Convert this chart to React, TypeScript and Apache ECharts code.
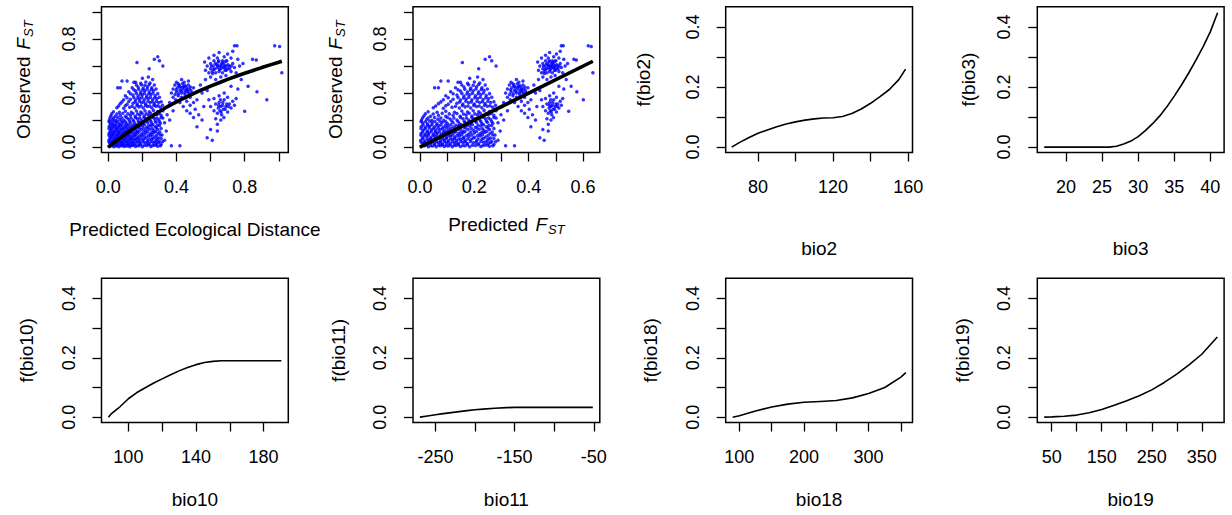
import React, { useEffect, useRef } from "react";
import * as echarts from "echarts";

// Site pairs: [predicted ecological distance, predicted FST, observed FST]
const coreSites: number[][] = [
  [0.004,0.004,0.005],[0.018,0.018,0.01],[0.032,0.031,0.003],[0.047,0.046,0.008],[0.062,0.06,0.002],[0.078,0.075,0.01],[0.093,0.089,0.004],[0.11,0.104,0.009],[0.126,0.119,0.002],[0.142,0.133,0.012],[0.16,0.149,0.004],[0.18,0.166,0.01],[0.2,0.183,0.003],[0.225,0.204,0.012],[0.25,0.224,0.004],[0.27,0.24,0.015],[0.29,0.256,0.006],
  [0.01,0.01,0.028],[0.025,0.025,0.022],[0.04,0.039,0.03],[0.055,0.054,0.024],[0.07,0.068,0.032],[0.086,0.083,0.022],[0.102,0.097,0.03],[0.118,0.111,0.025],[0.135,0.127,0.033],[0.152,0.142,0.024],[0.17,0.158,0.035],[0.19,0.175,0.027],[0.215,0.196,0.033],[0.24,0.216,0.025],[0.262,0.234,0.036],[0.285,0.252,0.028],[0.31,0.272,0.02],
  [0.003,0.003,0.05],[0.018,0.018,0.045],[0.033,0.032,0.055],[0.048,0.047,0.048],[0.063,0.061,0.056],[0.079,0.076,0.046],[0.094,0.09,0.054],[0.11,0.104,0.047],[0.127,0.12,0.057],[0.143,0.134,0.05],[0.162,0.151,0.058],[0.18,0.166,0.048],[0.205,0.187,0.055],[0.23,0.208,0.047],[0.255,0.228,0.058],[0.28,0.248,0.05],[0.3,0.264,0.042],
  [0.01,0.01,0.072],[0.026,0.026,0.078],[0.041,0.04,0.07],[0.056,0.055,0.08],[0.071,0.069,0.073],[0.087,0.084,0.079],[0.103,0.098,0.071],[0.12,0.113,0.08],[0.137,0.128,0.074],[0.155,0.145,0.082],[0.175,0.162,0.072],[0.198,0.181,0.08],[0.222,0.201,0.073],[0.248,0.222,0.082],[0.272,0.242,0.075],[0.295,0.26,0.068],
  [0.004,0.004,0.1],[0.019,0.019,0.095],[0.034,0.033,0.103],[0.05,0.049,0.097],[0.066,0.064,0.105],[0.082,0.079,0.096],[0.098,0.093,0.104],[0.115,0.108,0.098],[0.133,0.125,0.106],[0.152,0.142,0.099],[0.172,0.159,0.107],[0.195,0.179,0.097],[0.22,0.2,0.105],[0.245,0.22,0.098],[0.268,0.238,0.108],[0.292,0.258,0.1],[0.315,0.276,0.09],
  [0.012,0.012,0.125],[0.028,0.028,0.12],[0.044,0.043,0.128],[0.06,0.058,0.122],[0.077,0.074,0.13],[0.094,0.09,0.121],[0.112,0.106,0.129],[0.13,0.122,0.123],[0.15,0.14,0.131],[0.17,0.158,0.12],[0.193,0.177,0.13],[0.218,0.198,0.124],[0.242,0.218,0.132],[0.265,0.236,0.122],[0.29,0.256,0.13],
  [0.005,0.005,0.152],[0.02,0.02,0.147],[0.037,0.036,0.155],[0.054,0.053,0.148],[0.072,0.07,0.156],[0.09,0.086,0.147],[0.11,0.104,0.155],[0.13,0.122,0.149],[0.152,0.142,0.157],[0.175,0.162,0.148],[0.2,0.183,0.156],[0.225,0.204,0.147],[0.25,0.224,0.157],[0.275,0.244,0.15],[0.3,0.264,0.16],
  [0.01,0.01,0.178],[0.028,0.028,0.172],[0.046,0.045,0.18],[0.065,0.063,0.173],[0.085,0.082,0.182],[0.107,0.101,0.174],[0.13,0.122,0.181],[0.155,0.145,0.172],[0.18,0.166,0.182],[0.205,0.187,0.175],[0.23,0.208,0.183],[0.255,0.228,0.174],[0.28,0.248,0.184],[0.305,0.268,0.176],
  [0.006,0.006,0.2],[0.025,0.025,0.205],[0.045,0.044,0.198],[0.068,0.066,0.207],[0.092,0.088,0.199],[0.118,0.111,0.208],[0.145,0.136,0.2],[0.17,0.158,0.21],[0.195,0.179,0.2],[0.22,0.2,0.21],[0.245,0.22,0.202],[0.27,0.24,0.212],[0.295,0.26,0.204],[0.32,0.28,0.215],
  [0.015,0.015,0.232],[0.04,0.039,0.228],[0.07,0.068,0.235],[0.1,0.095,0.228],[0.13,0.122,0.236],[0.158,0.148,0.229],[0.185,0.17,0.238],[0.21,0.191,0.23],[0.235,0.212,0.24],[0.26,0.232,0.232],[0.285,0.252,0.242],[0.31,0.272,0.235],
];

const coreFillSites: number[][] = [
  [0.011,0.011,0.014],[0.026,0.026,0.017],[0.04,0.039,0.012],[0.055,0.054,0.016],[0.071,0.069,0.013],[0.086,0.082,0.018],[0.101,0.096,0.012],[0.118,0.111,0.016],[0.134,0.126,0.014],[0.151,0.141,0.018],[0.17,0.158,0.012],[0.19,0.175,0.017],[0.212,0.193,0.013],[0.237,0.214,0.018],[0.26,0.232,0.012],[0.28,0.248,0.016],[0.305,0.268,0.01],
  [0.004,0.004,0.038],[0.018,0.018,0.036],[0.033,0.032,0.041],[0.048,0.047,0.037],[0.063,0.061,0.04],[0.078,0.075,0.035],[0.094,0.09,0.041],[0.11,0.104,0.037],[0.126,0.119,0.04],[0.144,0.135,0.036],[0.161,0.15,0.042],[0.181,0.167,0.037],[0.203,0.186,0.041],[0.228,0.206,0.036],[0.25,0.224,0.042],[0.273,0.242,0.038],[0.295,0.26,0.035],[0.318,0.278,0.04],
  [0.011,0.011,0.062],[0.026,0.026,0.06],[0.041,0.04,0.065],[0.056,0.055,0.061],[0.071,0.069,0.064],[0.087,0.083,0.06],[0.102,0.097,0.065],[0.119,0.112,0.061],[0.135,0.127,0.064],[0.153,0.143,0.06],[0.171,0.159,0.066],[0.191,0.176,0.061],[0.214,0.195,0.065],[0.238,0.214,0.06],[0.262,0.234,0.066],[0.286,0.253,0.061],[0.31,0.272,0.063],
  [0.004,0.004,0.087],[0.018,0.018,0.085],[0.033,0.032,0.09],[0.049,0.048,0.086],[0.064,0.062,0.089],[0.079,0.076,0.085],[0.095,0.09,0.09],[0.112,0.106,0.086],[0.128,0.12,0.089],[0.146,0.136,0.085],[0.164,0.153,0.091],[0.185,0.171,0.086],[0.21,0.191,0.09],[0.235,0.212,0.085],[0.258,0.23,0.091],[0.282,0.25,0.086],[0.305,0.268,0.089],
  [0.01,0.01,0.112],[0.026,0.026,0.11],[0.042,0.041,0.115],[0.058,0.056,0.111],[0.074,0.071,0.114],[0.09,0.086,0.11],[0.106,0.1,0.115],[0.123,0.116,0.111],[0.141,0.132,0.114],[0.16,0.149,0.11],[0.18,0.166,0.116],[0.205,0.187,0.111],[0.23,0.208,0.115],[0.255,0.228,0.11],[0.278,0.246,0.116],[0.302,0.266,0.112],
  [0.004,0.004,0.138],[0.019,0.019,0.136],[0.035,0.034,0.141],[0.051,0.05,0.137],[0.068,0.066,0.14],[0.085,0.082,0.136],[0.102,0.097,0.141],[0.12,0.113,0.137],[0.139,0.13,0.14],[0.16,0.149,0.135],[0.182,0.168,0.141],[0.207,0.189,0.137],[0.232,0.21,0.141],[0.258,0.23,0.136],[0.282,0.25,0.142],[0.31,0.272,0.138],
  [0.012,0.012,0.163],[0.028,0.028,0.161],[0.045,0.044,0.166],[0.063,0.061,0.162],[0.08,0.077,0.165],[0.099,0.094,0.161],[0.12,0.113,0.166],[0.141,0.132,0.162],[0.163,0.152,0.165],[0.188,0.173,0.161],[0.212,0.193,0.166],[0.238,0.214,0.162],[0.262,0.234,0.166],[0.288,0.254,0.161],
  [0.004,0.004,0.19],[0.02,0.02,0.188],[0.037,0.036,0.193],[0.056,0.055,0.189],[0.077,0.074,0.192],[0.1,0.095,0.188],[0.124,0.117,0.193],[0.15,0.14,0.189],[0.176,0.163,0.192],[0.2,0.183,0.188],[0.225,0.204,0.194],[0.25,0.224,0.189],[0.275,0.244,0.193],[0.3,0.264,0.189],
  [0.01,0.01,0.217],[0.03,0.03,0.215],[0.055,0.054,0.22],[0.08,0.077,0.216],[0.107,0.101,0.219],[0.133,0.125,0.215],[0.16,0.149,0.22],[0.185,0.171,0.216],[0.21,0.191,0.22],[0.235,0.212,0.215],[0.26,0.232,0.221],[0.285,0.252,0.216],[0.31,0.272,0.219],
  [0.02,0.02,0.247],[0.05,0.049,0.245],[0.085,0.082,0.25],[0.115,0.108,0.246],[0.145,0.136,0.249],[0.172,0.16,0.245],[0.198,0.181,0.25],[0.222,0.202,0.246],[0.248,0.222,0.25],[0.272,0.242,0.245],[0.298,0.262,0.249],
];

const upperSites: number[][] = [
  [0.03,0.03,0.262],[0.065,0.063,0.258],[0.1,0.095,0.265],[0.135,0.127,0.258],[0.165,0.154,0.268],[0.19,0.175,0.26],[0.215,0.196,0.27],[0.24,0.216,0.262],[0.265,0.236,0.272],[0.29,0.256,0.264],[0.32,0.28,0.27],
  [0.05,0.049,0.292],[0.09,0.086,0.288],[0.125,0.118,0.295],[0.155,0.145,0.29],[0.18,0.166,0.298],[0.205,0.187,0.29],[0.23,0.208,0.3],[0.255,0.228,0.292],[0.28,0.248,0.302],[0.305,0.268,0.295],
  [0.06,0.058,0.305],[0.1,0.095,0.307],[0.14,0.131,0.303],[0.168,0.156,0.308],[0.192,0.177,0.304],[0.218,0.198,0.309],[0.243,0.218,0.305],[0.268,0.238,0.31],[0.292,0.258,0.306],[0.318,0.278,0.31],
  [0.07,0.068,0.322],[0.11,0.104,0.318],[0.145,0.136,0.325],[0.17,0.158,0.32],[0.195,0.179,0.328],[0.22,0.2,0.32],[0.245,0.22,0.33],[0.27,0.24,0.322],[0.295,0.26,0.33],
  [0.08,0.077,0.335],[0.12,0.113,0.338],[0.157,0.146,0.334],[0.183,0.169,0.339],[0.208,0.189,0.335],[0.233,0.21,0.34],[0.258,0.23,0.336],[0.282,0.25,0.34],[0.31,0.272,0.336],
  [0.09,0.086,0.35],[0.13,0.122,0.355],[0.16,0.149,0.348],[0.185,0.17,0.357],[0.21,0.191,0.35],[0.235,0.212,0.36],[0.26,0.232,0.352],[0.285,0.252,0.36],
  [0.11,0.104,0.365],[0.15,0.14,0.368],[0.173,0.16,0.364],[0.197,0.18,0.369],[0.222,0.202,0.365],[0.247,0.222,0.37],[0.272,0.242,0.366],[0.3,0.264,0.37],
  [0.1,0.095,0.38],[0.145,0.136,0.385],[0.175,0.162,0.378],[0.2,0.183,0.388],[0.225,0.204,0.38],[0.25,0.224,0.39],[0.275,0.244,0.382],
  [0.13,0.122,0.395],[0.165,0.154,0.398],[0.188,0.173,0.394],[0.212,0.193,0.399],[0.238,0.214,0.395],[0.262,0.234,0.4],[0.29,0.256,0.396],
  [0.12,0.113,0.41],[0.16,0.149,0.415],[0.19,0.175,0.408],[0.215,0.196,0.418],[0.24,0.216,0.41],[0.265,0.236,0.42],
  [0.15,0.14,0.425],[0.178,0.165,0.428],[0.202,0.185,0.424],[0.228,0.206,0.43],[0.252,0.226,0.426],[0.28,0.248,0.43],
  [0.14,0.131,0.44],[0.175,0.162,0.445],[0.205,0.187,0.438],[0.23,0.208,0.447],[0.255,0.228,0.44],
  [0.165,0.154,0.46],[0.195,0.179,0.462],[0.215,0.196,0.458],[0.24,0.216,0.463],[0.27,0.24,0.46],
  [0.15,0.14,0.48],[0.19,0.175,0.472],[0.22,0.2,0.482],[0.245,0.22,0.475],[0.2,0.183,0.51],[0.235,0.212,0.52],[0.26,0.232,0.5],[0.11,0.104,0.49],[0.07,0.068,0.44],[0.055,0.054,0.44],[0.08,0.077,0.49],
  [0.168,0.156,0.627],[0.27,0.24,0.65],[0.29,0.256,0.67],[0.3,0.264,0.64],[0.32,0.28,0.6],[0.24,0.216,0.58],[0.16,0.149,0.48],
  [0.33,0.287,0.05],[0.34,0.295,0.12],[0.33,0.287,0.18],[0.345,0.298,0.24],[0.36,0.308,0.2],[0.37,0.315,0.01],[0.42,0.348,0.01],[0.38,0.322,0.27],
];

const midSites: number[][] = [
  [0.37,0.315,0.4],[0.38,0.322,0.43],[0.39,0.329,0.46],[0.4,0.335,0.41],[0.405,0.338,0.44],[0.41,0.342,0.38],[0.415,0.345,0.46],[0.42,0.348,0.42],[0.425,0.351,0.44],[0.43,0.355,0.4],[0.435,0.358,0.47],[0.44,0.361,0.43],[0.445,0.364,0.45],[0.45,0.367,0.39],[0.455,0.37,0.42],[0.46,0.373,0.44],[0.465,0.376,0.41],[0.47,0.379,0.46],[0.475,0.382,0.43],[0.48,0.385,0.37],[0.49,0.391,0.4],[0.5,0.397,0.44],
  [0.398,0.334,0.425],[0.412,0.343,0.395],[0.418,0.347,0.45],[0.428,0.353,0.415],[0.438,0.36,0.445],[0.448,0.366,0.405],[0.452,0.368,0.455],[0.462,0.374,0.425],[0.472,0.38,0.4],[0.482,0.386,0.445],[0.392,0.33,0.39],[0.43,0.355,0.37],[0.455,0.37,0.365],[0.485,0.388,0.42],[0.41,0.342,0.47],[0.445,0.364,0.48],
  [0.395,0.332,0.35],[0.42,0.348,0.33],[0.44,0.361,0.3],[0.46,0.373,0.34],[0.48,0.385,0.31],[0.5,0.397,0.33],[0.51,0.402,0.28],[0.52,0.408,0.35],[0.38,0.322,0.37],[0.36,0.308,0.33],[0.35,0.302,0.3],[0.4,0.335,0.48],[0.43,0.355,0.5],[0.47,0.379,0.49],[0.53,0.414,0.24],[0.5,0.397,0.22],[0.55,0.425,0.2],[0.52,0.408,0.15],[0.46,0.373,0.27],[0.48,0.385,0.25],
  [0.56,0.43,0.3],[0.58,0.441,0.42],[0.55,0.425,0.4],[0.59,0.447,0.35],[0.54,0.419,0.46],[0.57,0.436,0.5],
  [0.58,0.441,0.07],[0.61,0.457,0.05],[0.64,0.472,0.12],[0.6,0.452,0.13],
];

const farSites: number[][] = [
  [0.57,0.436,0.57],[0.58,0.441,0.6],[0.59,0.447,0.55],[0.6,0.452,0.58],[0.6,0.452,0.62],[0.61,0.457,0.56],[0.615,0.46,0.6],[0.62,0.462,0.64],[0.625,0.465,0.58],[0.63,0.467,0.55],[0.635,0.47,0.61],[0.64,0.472,0.59],[0.645,0.475,0.63],[0.65,0.477,0.56],[0.655,0.48,0.6],[0.66,0.482,0.58],[0.665,0.485,0.62],[0.67,0.487,0.55],[0.675,0.49,0.59],[0.68,0.492,0.61],[0.685,0.495,0.57],[0.69,0.497,0.6],[0.695,0.5,0.64],[0.7,0.502,0.58],[0.71,0.507,0.6],[0.72,0.511,0.56],[0.73,0.516,0.62],[0.74,0.52,0.59],[0.75,0.525,0.55],
  [0.605,0.455,0.6],[0.618,0.461,0.575],[0.628,0.466,0.62],[0.642,0.473,0.605],[0.652,0.478,0.575],[0.662,0.483,0.6],[0.672,0.488,0.625],[0.682,0.493,0.59],[0.692,0.498,0.57],[0.702,0.503,0.61],[0.712,0.508,0.58],[0.722,0.512,0.6],[0.612,0.458,0.545],[0.648,0.476,0.64],[0.688,0.496,0.635],
  [0.6,0.452,0.52],[0.63,0.467,0.5],[0.66,0.482,0.52],[0.69,0.497,0.53],[0.62,0.462,0.68],[0.65,0.477,0.7],[0.68,0.492,0.67],[0.7,0.502,0.69],[0.72,0.511,0.66],[0.74,0.52,0.75],[0.755,0.527,0.75],[0.73,0.516,0.71],[0.59,0.447,0.66],[0.565,0.433,0.63],[0.76,0.529,0.65],[0.77,0.534,0.6],[0.64,0.472,0.66],[0.67,0.487,0.64],
  [0.6,0.452,0.3],[0.62,0.462,0.27],[0.63,0.467,0.32],[0.64,0.472,0.25],[0.645,0.475,0.29],[0.65,0.477,0.33],[0.655,0.48,0.27],[0.66,0.482,0.3],[0.665,0.485,0.24],[0.67,0.487,0.31],[0.675,0.49,0.28],[0.68,0.492,0.35],[0.69,0.497,0.3],[0.7,0.502,0.26],[0.71,0.507,0.32],[0.72,0.511,0.29],[0.73,0.516,0.34],[0.74,0.52,0.31],[0.75,0.525,0.36],[0.65,0.477,0.38],[0.63,0.467,0.21],[0.66,0.482,0.2],[0.64,0.472,0.17],[0.68,0.492,0.4],[0.62,0.462,0.36],[0.7,0.502,0.37],
  [0.648,0.476,0.31],[0.662,0.483,0.26],[0.672,0.488,0.33],[0.685,0.495,0.28],[0.695,0.5,0.32],[0.705,0.505,0.3],[0.658,0.481,0.35],[0.678,0.491,0.22],
  [0.872,0.577,0.41],[0.93,0.601,0.35],[0.8,0.547,0.265],[0.976,0.619,0.75],[1.005,0.63,0.745],[1.018,0.636,0.55],[0.846,0.566,0.65],[0.868,0.575,0.645],[0.9,0.589,0.59],[0.78,0.538,0.5],[0.82,0.556,0.45],[0.76,0.529,0.43],[0.79,0.543,0.62],[0.72,0.511,0.45],
];

// Fitted lines
const ecoCurveX = [0,0.05,0.1,0.15,0.2,0.25,0.3,0.35,0.4,0.45,0.5,0.55,0.6,0.65,0.7,0.75,0.8,0.85,0.9,0.95,1.0,1.018];
const ecoCurveY = [0,0.049,0.095,0.14,0.183,0.224,0.264,0.302,0.335,0.367,0.397,0.425,0.452,0.477,0.502,0.525,0.547,0.568,0.589,0.609,0.628,0.636];
const fstLineX = [0, 0.636];
const fstLineY = [0, 0.636];

// I-spline partial effects
const bio2X = [66,70,75,80,85,90,95,100,105,110,115,120,125,130,135,140,145,150,155,158.6];
const bio2Y = [0,0.015,0.031,0.046,0.057,0.068,0.077,0.084,0.09,0.094,0.097,0.098,0.102,0.112,0.127,0.146,0.168,0.192,0.225,0.26];
const bio3X = [17,20,23,26,27,28,29,30,31,32,33,34,35,36,37,38,39,40,41];
const bio3Y = [0,0,0,0,0.003,0.01,0.02,0.035,0.055,0.078,0.104,0.135,0.17,0.207,0.247,0.29,0.335,0.385,0.448];
const bio10X = [88.2,90,95,100,105,110,115,120,125,130,135,140,145,150,155,160,170,180,190.5];
const bio10Y = [0,0.012,0.035,0.062,0.083,0.099,0.115,0.129,0.143,0.156,0.167,0.177,0.184,0.188,0.19,0.19,0.19,0.19,0.19];
const bio11X = [-269.6,-260,-250,-240,-225,-210,-200,-190,-175,-160,-150,-125,-100,-75,-51.2];
const bio11Y = [0,0.004,0.008,0.012,0.017,0.022,0.025,0.027,0.03,0.032,0.033,0.033,0.033,0.033,0.033];
const bio18X = [89.7,100,125,150,175,200,225,250,275,300,325,350,357.5];
const bio18Y = [0,0.005,0.021,0.034,0.044,0.05,0.053,0.056,0.065,0.08,0.1,0.135,0.15];
const bio19X = [35,50,75,100,125,150,175,200,225,250,275,300,325,350,381];
const bio19Y = [0,0.001,0.003,0.007,0.015,0.026,0.04,0.055,0.072,0.092,0.117,0.145,0.177,0.212,0.27];

// Tick marks and labelled ticks
const fstTicks = [0,0.2,0.4,0.6,0.8,1.0];
const fstLabels = [0,0.4,0.8];
const ecoTicks = [0,0.2,0.4,0.6,0.8,1.0];
const ecoLabels = [0,0.4,0.8];
const predTicks = [0,0.1,0.2,0.3,0.4,0.5,0.6];
const predLabels = [0,0.2,0.4,0.6];
const effTicks = [0,0.1,0.2,0.3,0.4];
const effLabels = [0,0.2,0.4];
const bio2Ticks = [80,100,120,140,160];
const bio2Labels = [80,120,160];
const bio3Ticks = [20,25,30,35,40];
const bio3Labels = [20,25,30,35,40];
const bio10Ticks = [100,120,140,160,180];
const bio10Labels = [100,140,180];
const bio11Ticks = [-250,-200,-150,-100,-50];
const bio11Labels = [-250,-150,-50];
const bio18Ticks = [100,150,200,250,300,350];
const bio18Labels = [100,200,300];
const bio19Ticks = [50,100,150,200,250,300,350];
const bio19Labels = [50,150,250,350];

const FONT = "'Liberation Sans', Arial, Helvetica, sans-serif";
const allSites = [...coreSites, ...coreFillSites, ...upperSites, ...midSites, ...farSites];
const zip = (xs: number[], ys: number[]) => xs.map((x, i) => [x, ys[i]]);

const colLeft = [101.5, 413, 725.7, 1037.3];
const rowTop = [6.7, 278.3];
const rowHeight = [145.8, 144.2];
const boxWidth = 186.8;

const richStyles = {
  n: { fontSize: 19, fontFamily: FONT, color: "#000", lineHeight: 21, verticalAlign: "top", padding: [0, 7, 0, 0] },
  i: { fontSize: 19, fontFamily: FONT, color: "#000", fontStyle: "italic", lineHeight: 21, verticalAlign: "top" },
  s: { fontSize: 13, fontFamily: FONT, color: "#000", fontStyle: "italic", lineHeight: 14, verticalAlign: "bottom", padding: [11, 0, 0, 1] },
};

type Panel = {
  col: number; row: number;
  xr: number[]; yr: number[];
  xt: number[]; xl: number[]; yt: number[]; yl: number[];
  xDec: number; yDec: number;
  xName: string; yName: string; xGap: number; yGap: number;
  series: any[];
};

const lineSeries = (xs: number[], ys: number[], width: number) => ({
  type: "line", data: zip(xs, ys), showSymbol: false, symbol: "none", smooth: false,
  lineStyle: { color: "#000", width }, silent: true, z: 5,
});
const scatterSeries = (data: number[][]) => ({
  type: "scatter", data, symbol: "circle", symbolSize: 3.5, silent: true,
  itemStyle: { color: "#0000FF" }, z: 3,
});

const panels: Panel[] = [
  { col: 0, row: 0, xr: [-0.04, 1.056], yr: [-0.04, 1.04], xt: ecoTicks, xl: ecoLabels, yt: fstTicks, yl: fstLabels, xDec: 1, yDec: 1,
    xName: "Predicted Ecological Distance", yName: "{n|Observed}{i|F}{s|ST}", xGap: 66.5, yGap: 66.5,
    series: [scatterSeries(allSites.map((p) => [p[0], p[2]])), lineSeries(ecoCurveX, ecoCurveY, 3.6)] },
  { col: 1, row: 0, xr: [-0.0255, 0.6615], yr: [-0.04, 1.04], xt: predTicks, xl: predLabels, yt: fstTicks, yl: fstLabels, xDec: 1, yDec: 1,
    xName: "{n|Predicted}{i|F}{s|ST}", yName: "{n|Observed}{i|F}{s|ST}", xGap: 62, yGap: 66.5,
    series: [scatterSeries(allSites.map((p) => [p[1], p[2]])), lineSeries(fstLineX, fstLineY, 3.6)] },
  { col: 2, row: 0, xr: [62.8, 162.3], yr: [-0.018, 0.468], xt: bio2Ticks, xl: bio2Labels, yt: effTicks, yl: effLabels, xDec: 0, yDec: 1,
    xName: "bio2", yName: "f(bio2)", xGap: 85, yGap: 71.5, series: [lineSeries(bio2X, bio2Y, 1.6)] },
  { col: 3, row: 0, xr: [16.04, 41.9], yr: [-0.018, 0.468], xt: bio3Ticks, xl: bio3Labels, yt: effTicks, yl: effLabels, xDec: 0, yDec: 1,
    xName: "bio3", yName: "f(bio3)", xGap: 85, yGap: 58.5, series: [lineSeries(bio3X, bio3Y, 1.6)] },
  { col: 0, row: 1, xr: [84.1, 194.6], yr: [-0.018, 0.468], xt: bio10Ticks, xl: bio10Labels, yt: effTicks, yl: effLabels, xDec: 0, yDec: 1,
    xName: "bio10", yName: "f(bio10)", xGap: 66.5, yGap: 64.5, series: [lineSeries(bio10X, bio10Y, 1.6)] },
  { col: 1, row: 1, xr: [-278.3, -42.4], yr: [-0.018, 0.468], xt: bio11Ticks, xl: bio11Labels, yt: effTicks, yl: effLabels, xDec: 0, yDec: 1,
    xName: "bio11", yName: "f(bio11)", xGap: 66.5, yGap: 64.5, series: [lineSeries(bio11X, bio11Y, 1.6)] },
  { col: 2, row: 1, xr: [78.9, 367.9], yr: [-0.018, 0.468], xt: bio18Ticks, xl: bio18Labels, yt: effTicks, yl: effLabels, xDec: 0, yDec: 1,
    xName: "bio18", yName: "f(bio18)", xGap: 66.5, yGap: 64.5, series: [lineSeries(bio18X, bio18Y, 1.6)] },
  { col: 3, row: 1, xr: [21.2, 394.6], yr: [-0.018, 0.468], xt: bio19Ticks, xl: bio19Labels, yt: effTicks, yl: effLabels, xDec: 0, yDec: 1,
    xName: "bio19", yName: "f(bio19)", xGap: 66.5, yGap: 64.5, series: [lineSeries(bio19X, bio19Y, 1.6)] },
];

function buildOption() {
  const grid: any[] = [];
  const xAxis: any[] = [];
  const yAxis: any[] = [];
  const series: any[] = [];
  const tickStyle = { color: "#000", width: 1.3 };
  const labelBase = { fontSize: 18, fontFamily: FONT, color: "#000", lineHeight: 18 };
  const nameBase = { fontSize: 19, fontFamily: FONT, color: "#000", lineHeight: 21, rich: richStyles };

  panels.forEach((p, i) => {
    grid.push({
      left: colLeft[p.col], top: rowTop[p.row], width: boxWidth, height: rowHeight[p.row],
      show: true, borderColor: "#000", borderWidth: 1.5, backgroundColor: "transparent",
      containLabel: false, outerBoundsMode: "none",
    });
    xAxis.push({
      gridIndex: i, type: "value", min: p.xr[0], max: p.xr[1], position: "bottom",
      axisLine: { show: false, onZero: false },
      splitLine: { show: false },
      axisTick: { show: true, inside: false, length: 9, lineStyle: tickStyle, customValues: p.xt },
      axisLabel: { ...labelBase, margin: 25, customValues: p.xl, showMinLabel: true, showMaxLabel: true,
        formatter: (v: number) => v.toFixed(p.xDec) },
      name: p.xName, nameLocation: "middle", nameGap: p.xGap, nameMoveOverlap: false,
      nameTextStyle: nameBase,
    });
    yAxis.push({
      gridIndex: i, type: "value", min: p.yr[0], max: p.yr[1], position: "left",
      axisLine: { show: false, onZero: false },
      splitLine: { show: false },
      axisTick: { show: true, inside: false, length: 9, lineStyle: tickStyle, customValues: p.yt },
      axisLabel: { ...labelBase, margin: 24, rotate: 90, customValues: p.yl, showMinLabel: true, showMaxLabel: true,
        formatter: (v: number) => v.toFixed(p.yDec) },
      name: p.yName, nameLocation: "middle", nameGap: p.yGap, nameRotate: 90, nameMoveOverlap: false,
      nameTextStyle: nameBase,
    });
    p.series.forEach((s) => series.push({ ...s, xAxisIndex: i, yAxisIndex: i }));
  });

  return {
    animation: false,
    backgroundColor: "#fff",
    textStyle: { fontFamily: FONT },
    grid, xAxis, yAxis, series,
  };
}

export default function App() {
  const ref = useRef<HTMLDivElement>(null);
  useEffect(() => {
    if (!ref.current) return;
    const chart = echarts.init(ref.current, null, { renderer: "svg" });
    chart.setOption(buildOption() as any);
    return () => chart.dispose();
  }, []);
  return (
    <div
      ref={ref}
      style={{ position: "absolute", left: 0, top: 0, width: 1232, height: 515, background: "#fff" }}
    />
  );
}
